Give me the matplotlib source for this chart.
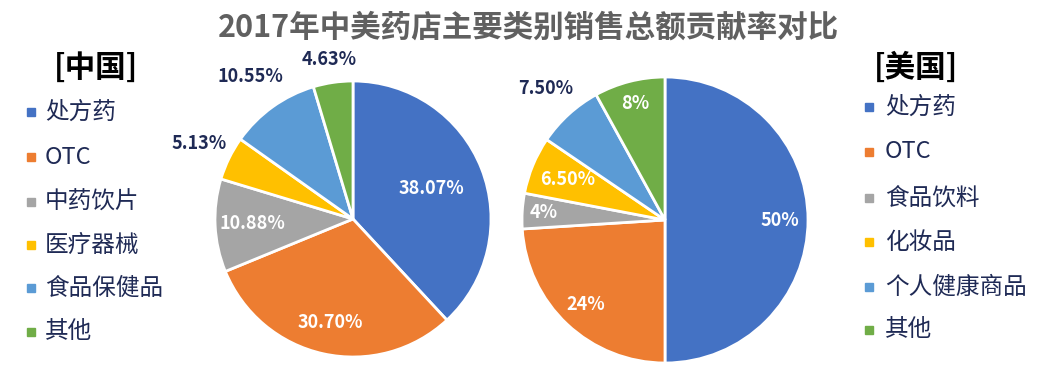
import numpy as np
import matplotlib
matplotlib.use('Agg')
import matplotlib.pyplot as plt
from matplotlib.patches import Rectangle

plt.rcParams['font.family'] = ['Noto Sans CJK SC', 'DejaVu Sans']

TITLE = '2017年中美药店主要类别销售总额贡献率对比'

cn_labels = ['处方药', 'OTC', '中药饮片', '医疗器械', '食品保健品', '其他']
cn_values = [38.07, 30.70, 10.88, 5.13, 10.55, 4.63]
cn_texts = ['38.07%', '30.70%', '10.88%', '5.13%', '10.55%', '4.63%']

us_labels = ['处方药', 'OTC', '食品饮料', '化妆品', '个人健康商品', '其他']
us_values = [50, 24, 4, 6.5, 7.5, 8]
us_texts = ['50%', '24%', '4%', '6.50%', '7.50%', '8%']

colors = ['#4472C4', '#ED7D31', '#A5A5A5', '#FFC000', '#5B9BD5', '#70AD47']
NAVY = '#1F2A55'

W, H = 1053, 378
fig = plt.figure(figsize=(W / 100, H / 100), dpi=100)
ax = fig.add_axes([0, 0, 1, 1])


def draw_pie(values, texts, center, radius, dists, outside):
    wedges, _ = ax.pie(values, colors=colors, startangle=90, counterclock=False,
                       center=center, radius=radius,
                       wedgeprops=dict(edgecolor='white', linewidth=2))
    for w, txt, d, out in zip(wedges, texts, dists, outside):
        ang = np.deg2rad((w.theta1 + w.theta2) / 2)
        x = center[0] + radius * d * np.cos(ang)
        y = center[1] + radius * d * np.sin(ang)
        ax.text(x, y, txt, ha='center', va='center', fontsize=13, fontweight='bold',
                color=NAVY if out else 'white')


# China pie
draw_pie(cn_values, cn_texts, (353, H - 219), 138,
         [0.61, 0.77, 0.73, 1.24, 1.27, 1.17],
         [False, False, False, True, True, True])
# US pie
draw_pie(us_values, us_texts, (665, H - 220), 143,
         [0.80, 0.81, 0.85, 0.74, 1.24, 0.84],
         [False, False, False, False, True, False])

ax.set_xlim(0, W)
ax.set_ylim(0, H)
ax.set_aspect('equal')
ax.axis('off')

ax.text(W / 2 + 2, H - 28, TITLE, ha='center', va='center', fontsize=22,
        fontweight='bold', color='#606060')

# custom legends
def draw_legend(title, labels, title_x, mark_x, text_x, ys):
    ax.text(title_x, H - 68, title, ha='center', va='center', fontsize=22,
            fontweight='bold', color='black')
    for lab, c, y in zip(labels, colors, ys):
        ax.add_patch(Rectangle((mark_x - 4, H - y - 4), 8, 8, color=c))
        ax.text(text_x, H - y, lab, ha='left', va='center', fontsize=17, color=NAVY)


draw_legend('[中国]', cn_labels, 96, 31, 45, [112, 157, 202, 245, 288, 332])
draw_legend('[美国]', us_labels, 916, 869, 885, [107, 152, 198, 242, 287, 330])

fig.savefig('out.png', dpi=100, facecolor='white')
